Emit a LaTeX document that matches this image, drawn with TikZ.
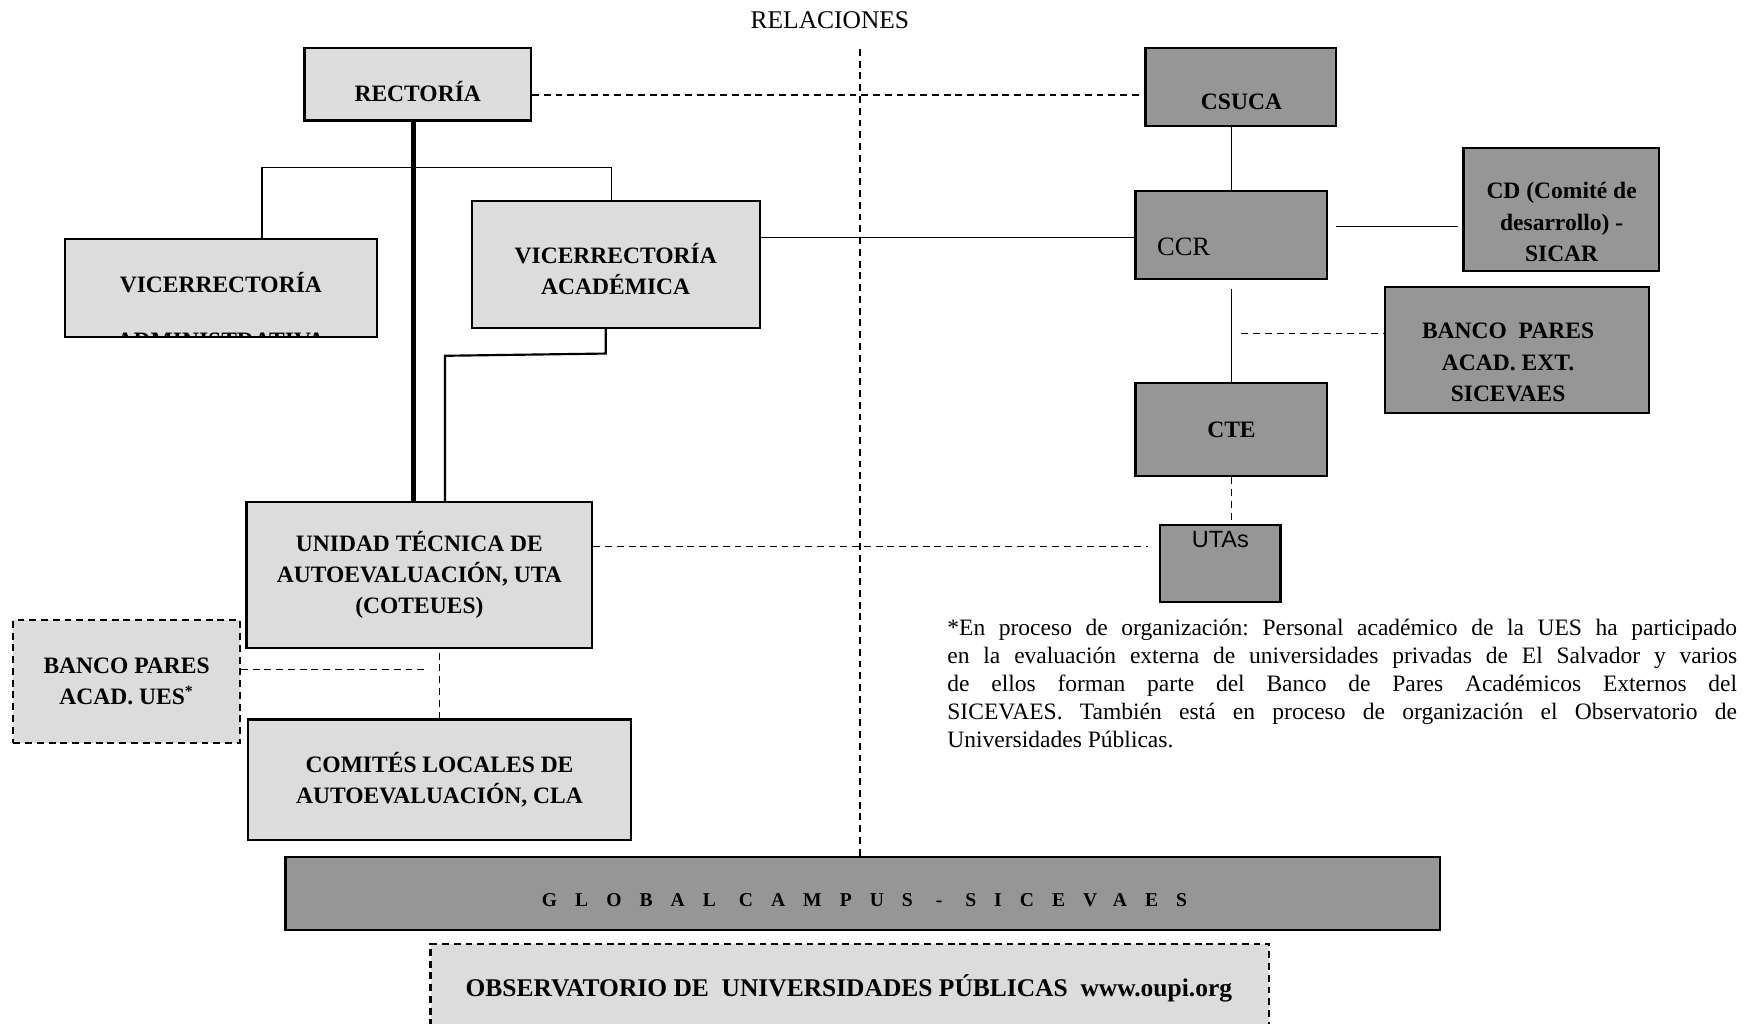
\documentclass[tikz,border=0pt]{standalone}
\usepackage{fontspec}
\setmainfont{Liberation Serif}
\newfontfamily\arialfont{Liberation Sans}
\usetikzlibrary{positioning,calc}
\frenchspacing
\newlength\upx
\setlength\upx{0.2mm}
\definecolor{lgray}{HTML}{DCDCDC}
\definecolor{dgray}{HTML}{969696}

\begin{document}
\begin{tikzpicture}[x=0.2mm,y=-0.2mm]
\tikzset{lbox/.style={draw,line width=1.1pt,fill=lgray,inner sep=0pt,align=center,
           font=\fontsize{12}{16}\selectfont\bfseries},
         dbox/.style={lbox,fill=dgray},
         dashbox/.style={lbox,dashed,dash pattern=on 3.5pt off 2.5pt},
         sz/.style 2 args={minimum width=#1\upx,minimum height=#2\upx},
         bold/.style={inner sep=0pt,align=center,font=\fontsize{12}{16}\selectfont\bfseries},
         link/.style={line width=0.75pt},
         rel/.style={line width=0.75pt,dash pattern=on 3.5pt off 2.5pt}};
   \useasboundingbox (0,0) rectangle (1568,918);
   \node[font=\fontsize{13}{16}\selectfont] at (744,18) (title) {RELACIONES};

   %% UES
   \node[lbox,sz={203}{65}] at (374.5,75.5) (rect) {};
   \node[bold] at (374.5,82) (rectT) {RECTORÍA};
   \node[lbox,sz={280}{88}] at (198,258) (vadm) {};
   \node[bold] at (198,253) (vadmT) {VICERRECTORÍA};
   \begin{scope}
     \clip (vadm.south west) rectangle (vadm.north east);
     \node[bold] at (198,305.5) (vadmT2) {ADMINISTRATIVA};
   \end{scope}
   \node[lbox,sz={258}{114}] at (552,237) (vac) {};
   \node[bold] at (552,241) (vacT) {VICERRECTORÍA\\ACADÉMICA};
   \node[lbox,sz={310}{131}] at (376,515.5) (uta) {UNIDAD TÉCNICA DE\\AUTOEVALUACIÓN, UTA\\(COTEUES)};
   \node[dashbox,sz={203}{110}] at (113.5,611) (bues) {BANCO PARES\\ACAD. UES\textsuperscript{*}};
   \node[lbox,sz={344}{108}] at (394,699) (cla) {COMITÉS LOCALES DE\\AUTOEVALUACIÓN, CLA};

   %% regional
   \node[dbox,sz={171}{70}] at (1112.5,78) (csuca) {};
   \node[bold] at (1113,91) (csucaT) {CSUCA};
   \node[dbox,sz={172}{79}] at (1104,210.5) (ccr) {};
   \node[anchor=west,inner sep=0pt,font=\fontsize{13.5}{16}\selectfont] at (1037,221) (ccrT) {CCR};
   \node[dbox,sz={175}{110}] at (1399.5,188) (cd) {};
   \node[bold] at (1400,199) (cdT) {CD (Comité de\\desarrollo) -\\SICAR};
   \node[dbox,sz={236}{113}] at (1360,313.5) (bext) {};
   \node[bold] at (1352,325) (bextT) {BANCO\ \ PARES\\ACAD. EXT.\\SICEVAES};
   \node[dbox,sz={172}{84}] at (1104,385) (cte) {CTE};
   \node[dbox,sz={108}{69}] at (1094,505.5) (utas) {};
   \node[inner sep=0pt,font=\arialfont\fontsize{12}{14}\selectfont] at (1094,484) (utasT) {UTAs};

   \node[dbox,sz={1035}{66}] at (773.5,801) (glob) {};
   \node[inner sep=0pt,font=\fontsize{10}{12}\selectfont\bfseries] at (775,807) (globT)
      {\addfontfeatures{LetterSpace=92}GLOBAL CAMPUS - SICEVAES};
   \node[dashbox,sz={752}{94}] at (762,893) (obs) {};
   \node[bold,font=\fontsize{13}{16}\selectfont\bfseries] at (761,886) (obsT)
      {OBSERVATORIO DE\ \ UNIVERSIDADES PÚBLICAS\ \ www.oupi.org};

   \node[anchor=north west,inner sep=0pt,text width=708\upx,align=justify,
         font=\fontsize{12}{14.3}\selectfont] at (849,555) (nota)
      {*En proceso de organización: Personal académico de la UES ha participado\linebreak
       en la evaluación externa de universidades privadas de El Salvador y varios\linebreak
       de ellos forman parte del Banco de Pares Académicos Externos del\linebreak
       SICEVAES. También está en proceso de organización el Observatorio de\linebreak
       Universidades Públicas.};

   %% lineas
   \coordinate (br) at (235,150);
   \draw[link] (vadm.north -| br) -- (br) -| ([xshift=-4\upx]vac.north);
   \draw[line width=2.6pt] ([xshift=-3.5\upx]rect.south) -- ([xshift=-3.5\upx]rect.south |- uta.north);
   \draw[line width=1.1pt] ([xshift=-9\upx]vac.south) -- ++(0,22) -- ++(-144,2) -- ([xshift=23\upx]uta.north);
   \draw[link] ([yshift=-2.5\upx]vac.east |- ccr.west) -- ([yshift=-2.5\upx]ccr.west);
   \draw[link] (ccr.north |- csuca.south) -- (ccr.north);
   \draw[link] ([shift={(7,-7.5)}]ccr.east) coordinate (c1) -- ($(c1 -| cd.west)+(-4,0)$);
   \draw[link] ([yshift=-8\upx]ccr.south) -- (cte.north);

   \draw[rel] ([xshift=-2.5\upx]glob.north) -- ++(0,-725);
   \draw[rel] ([yshift=-9.5\upx]rect.east) coordinate (r1) -- ($(r1 -| csuca.west)+(-2,0)$);
   \coordinate (bx) at (1113,299);
   \draw[rel] (bx) -- (bx -| bext.west);
   \draw[rel] (cte.south) -- (cte.south |- utas.north);
   \draw[rel] ([yshift=25.5\upx]uta.east) coordinate (u1) -- ($(u1 -| utas.west)+(-10,0)$);
   \draw[rel] (cla.north) -- (cla.north |- uta.south);
   \draw[rel] ([yshift=11\upx]bues.east) -- ++(168,0);
\end{tikzpicture}
\end{document}
